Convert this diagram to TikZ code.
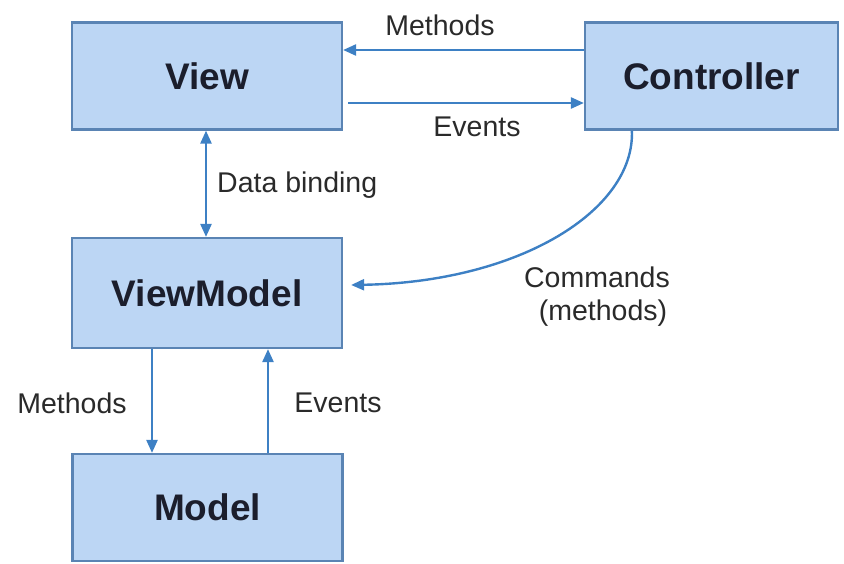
\documentclass[tikz,border=0pt]{standalone}
\usepackage{fontspec}
\setmainfont{Liberation Sans}
\usetikzlibrary{arrows.meta,calc}
\definecolor{boxfill}{HTML}{BCD6F4}
\definecolor{boxline}{HTML}{5A84B4}
\definecolor{arrowblue}{HTML}{3D80C4}
\definecolor{txt}{HTML}{1B1E2C}
\definecolor{lbl}{HTML}{2A2A2A}
\begin{document}
\begin{tikzpicture}[x=1pt,y=-1pt,
  box/.style={draw=boxline,fill=boxfill,line width=2.2pt,inner sep=0pt,
    minimum width=270pt,minimum height=107pt,
    font=\fontsize{37}{42}\selectfont\bfseries,text=txt},
  lab/.style={font=\fontsize{28.5}{33}\selectfont,text=lbl,inner sep=0pt},
  conn/.style={draw=arrowblue,line width=2.4pt,
    -{Triangle[length=13pt,width=11pt]}},
  biconn/.style={draw=arrowblue,line width=2.4pt,
    {Triangle[length=13pt,width=11pt]}-{Triangle[length=13pt,width=11pt]}}
]
\useasboundingbox (0,0) rectangle (844,563);
\node[box] (view) at (207,76) {View};
\node[box,minimum width=253pt] (ctl) at (711.5,76) {Controller};
\node[box,minimum height=110pt] (vm) at (207,293) {ViewModel};
\node[box] (model) at (207.5,507.5) {Model};

% View <-> Controller
\draw[conn] ($(ctl.west)+(0,-26)$) -- ($(view.east)+(0,-26)$);
\draw[conn] ($(view.east)+(5,27)$) -- ($(ctl.west)+(0,27)$);
\node[lab] (lmeth) at (440,25) {Methods};
\node[lab] (levt) at (477,127) {Events};

% Data binding
\draw[biconn] (view.south -| 206,0) -- (vm.north -| 206,0);
\node[lab,anchor=west] (ldb) at (217,185) {Data binding};

% Commands curve
\coordinate (cs) at ($(ctl.south west)+(48,0)$);
\coordinate (ce) at ($(vm.east)+(8,-8)$);
\draw[conn] (cs) .. controls (635,210) and (520,282) .. (ce);
\node[lab,align=center] (lcmd) at (597,297) {Commands\\\hspace*{12pt}(methods)};

% ViewModel <-> Model
\draw[conn] (vm.south -| 152,0) -- (model.north -| 152,0);
\draw[conn] (model.north -| 268,0) -- (vm.south -| 268,0);
\node[lab] (lmeth2) at (72,403) {Methods};
\node[lab] (levt2) at (338,403) {Events};
\end{tikzpicture}
\end{document}
